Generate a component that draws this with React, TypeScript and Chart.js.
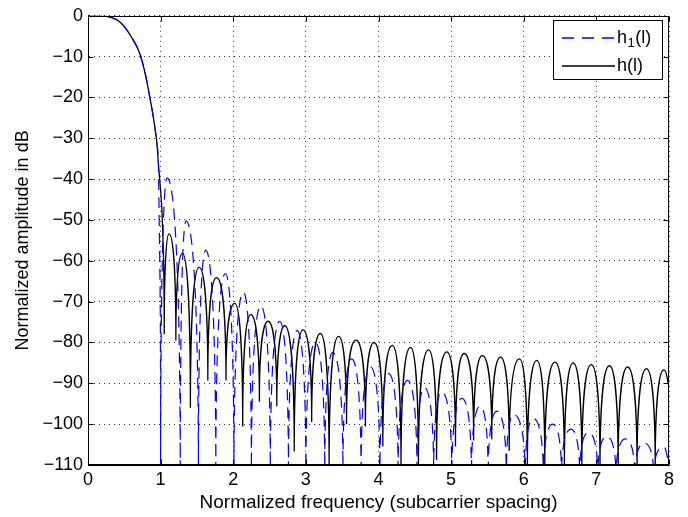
import React, { useEffect, useRef } from 'react';
import { Chart, registerables } from 'chart.js';

Chart.register(...registerables);

// ---------- data ----------
// shared main lobe (normalized frequency, dB)
const mainLobeFreq = [0, 0.2, 0.3, 0.44, 0.58, 0.72, 0.85, 0.94, 0.97];
const mainLobeDb = [0, 0, -0.3, -1.5, -4.7, -9.6, -19.8, -29.8, -36.4];

// h1(l): side-lobe nulls (fall below the axis) and peaks
const h1NullFreq = [1.0, 1.27, 1.52, 1.76, 2.01, 2.25, 2.51, 2.76, 3.0, 3.26, 3.51, 3.76, 4.02, 4.27, 4.53, 4.76, 5.01, 5.28, 5.51, 5.76, 6.02, 6.27, 6.52, 6.77, 7.02, 7.27, 7.53, 7.79];
const h1NullDb = -113;
const h1PeakFreq = [1.09, 1.35, 1.62, 1.89, 2.14, 2.38, 2.64, 2.88, 3.13, 3.37, 3.63, 3.89, 4.14, 4.4, 4.63, 4.87, 5.15, 5.4, 5.63, 5.86, 6.13, 6.4, 6.65, 6.89, 7.14, 7.4, 7.66, 7.92];
const h1PeakDb = [-39.7, -50.2, -57.4, -63.1, -67.7, -71, -74.8, -77.1, -80, -82.4, -84, -86, -87.6, -89.3, -91, -92.1, -93.7, -95.6, -96.8, -97.6, -98.6, -100, -101.2, -102, -103, -103.6, -104.6, -105.5];
const h1EndFreq = 8;
const h1EndDb = -110;

// h(l): tail of main lobe, side-lobe nulls and peaks
const hTailFreq = 1.02;
const hTailDb = -48.6;
const hNullFreq = [1.05, 1.21, 1.41, 1.65, 1.9, 2.13, 2.36, 2.6, 2.84, 3.08, 3.32, 3.56, 3.82, 4.06, 4.31, 4.55, 4.8, 5.06, 5.31, 5.56, 5.8, 6.05, 6.29, 6.56, 6.8, 7.05, 7.3, 7.56, 7.81];
const hNullDb = [-78, -79.5, -96, -89.3, -89.3, -100.6, -94.5, -95.6, -106.7, -99.5, -111, -100, -100.6, -105.5, -111, -111, -108.8, -105.5, -104, -103.7, -106.5, -111, -111, -111, -111, -111, -111, -111, -111];
const hPeakFreq = [1.116, 1.3, 1.53, 1.77, 2.02, 2.24, 2.48, 2.71, 2.96, 3.2, 3.45, 3.69, 3.94, 4.19, 4.44, 4.69, 4.94, 5.18, 5.43, 5.68, 5.94, 6.18, 6.43, 6.68, 6.93, 7.18, 7.43, 7.69, 7.93];
const hPeakDb = [-53.4, -58.2, -61.6, -64.1, -70.4, -73.2, -74.8, -75.9, -76.9, -77.8, -78.5, -79.4, -80, -80.7, -81.2, -81.8, -82.3, -82.7, -83.2, -83.6, -84, -84.4, -84.8, -85, -85.4, -85.7, -86, -86.4, -86.7];
const hEndFreq = 8;
const hEndDb = -91;

const xMin = 0, xMax = 8, xStep = 1;
const yMin = -110, yMax = 0, yStep = 10;

const xTitle = 'Normalized frequency (subcarrier spacing)';
const yTitle = 'Normalized amplitude in dB';
const legendBase = ['h', 'h'];
const legendSub = ['1', ''];
const legendTail = ['(l)', '(l)'];

// ---------- helpers ----------
const FONT = "'Liberation Sans', Arial, Helvetica, sans-serif";
const BLUE = '#0000ff';
const BLACK = '#000000';
const BLUE_DASH = [11, 7];
const LOBE_K = 0.62;

type P = { x: number; y: number };

function buildH1(): P[] {
  const pts: P[] = mainLobeFreq.map((f, i) => ({ x: f, y: mainLobeDb[i] }));
  h1NullFreq.forEach((f, i) => {
    pts.push({ x: f, y: h1NullDb });
    pts.push({ x: h1PeakFreq[i], y: h1PeakDb[i] });
  });
  pts.push({ x: h1EndFreq, y: h1EndDb });
  return pts;
}

function buildH(): P[] {
  const pts: P[] = mainLobeFreq.map((f, i) => ({ x: f, y: mainLobeDb[i] }));
  pts.push({ x: hTailFreq, y: hTailDb });
  hNullFreq.forEach((f, i) => {
    pts.push({ x: f, y: hNullDb[i] });
    pts.push({ x: hPeakFreq[i], y: hPeakDb[i] });
  });
  pts.push({ x: hEndFreq, y: hEndDb });
  return pts;
}

// Shape the bezier control points so side lobes are round arches with sharp nulls
const lobePlugin = {
  id: 'lobeShape',
  beforeDatasetDraw(chart: any, args: any) {
    const meta = args.meta;
    const line = meta.dataset;
    const pts = meta.data;
    if (!line || !pts || pts.length < 3) return;
    line.updateControlPoints(chart.chartArea, 'x');
    const k = LOBE_K;
    for (let i = 1; i < pts.length - 1; i++) {
      const p = pts[i], a = pts[i - 1], b = pts[i + 1];
      if (p.y < a.y && p.y < b.y) {
        p.cp1x = p.x - k * (p.x - a.x); p.cp1y = p.y;
        p.cp2x = p.x + k * (b.x - p.x); p.cp2y = p.y;
      } else if (p.y > a.y && p.y > b.y) {
        p.cp1x = p.x; p.cp1y = p.y - k * (p.y - a.y);
        p.cp2x = p.x; p.cp2y = p.y - k * (p.y - b.y);
      }
    }
  },
};

const framePlugin = {
  id: 'matlabFrame',
  afterDatasetsDraw(chart: any) {
    const { ctx, chartArea: a, scales } = chart;
    ctx.save();
    ctx.strokeStyle = BLACK;
    ctx.lineWidth = 1;
    ctx.setLineDash([]);
    const L = Math.round(a.left) + 0.5, R = Math.round(a.right) - 0.5;
    const T = Math.round(a.top) + 0.5, B = Math.round(a.bottom) - 0.5;
    ctx.strokeRect(L, T, R - L, B - T);
    const tl = 5;
    ctx.beginPath();
    scales.x.ticks.forEach((t: any) => {
      const px = Math.round(scales.x.getPixelForValue(t.value)) + 0.5;
      ctx.moveTo(px, B); ctx.lineTo(px, B - tl);
      ctx.moveTo(px, T); ctx.lineTo(px, T + tl);
    });
    scales.y.ticks.forEach((t: any) => {
      const py = Math.round(scales.y.getPixelForValue(t.value)) + 0.5;
      ctx.moveTo(L, py); ctx.lineTo(L + tl, py);
      ctx.moveTo(R, py); ctx.lineTo(R - tl, py);
    });
    ctx.stroke();
    ctx.restore();
  },
  afterDraw(chart: any) {
    const { ctx } = chart;
    ctx.save();
    const bx = 553.5, by = 20.5, bw = 109, bh = 59;
    ctx.fillStyle = '#ffffff';
    ctx.fillRect(bx, by, bw, bh);
    ctx.strokeStyle = BLACK;
    ctx.lineWidth = 1;
    ctx.strokeRect(bx, by, bw, bh);
    const rows = [38, 66];
    const colors = [BLUE, BLACK];
    rows.forEach((ry, i) => {
      ctx.beginPath();
      ctx.strokeStyle = colors[i];
      ctx.lineWidth = 1.3;
      ctx.setLineDash(i === 0 ? [12, 8] : []);
      ctx.moveTo(562, ry);
      ctx.lineTo(615, ry);
      ctx.stroke();
      ctx.setLineDash([]);
      ctx.fillStyle = BLACK;
      ctx.textBaseline = 'middle';
      ctx.textAlign = 'left';
      ctx.font = `18px ${FONT}`;
      let x = 617;
      ctx.fillText(legendBase[i], x, ry);
      x += ctx.measureText(legendBase[i]).width;
      if (legendSub[i]) {
        ctx.font = `13px ${FONT}`;
        ctx.fillText(legendSub[i], x + 0.5, ry + 5);
        x += ctx.measureText(legendSub[i]).width + 1;
        ctx.font = `18px ${FONT}`;
      }
      ctx.fillText(legendTail[i], x, ry);
    });
    ctx.restore();
  },
};

const fmt = (v: number) => (v < 0 ? '\u2212' + Math.abs(v) : String(v));

export default function App() {
  const ref = useRef<HTMLCanvasElement | null>(null);

  useEffect(() => {
    if (!ref.current) return;
    const chart = new Chart(ref.current, {
      type: 'line',
      data: {
        datasets: [
          {
            label: 'h1(l)',
            data: buildH1(),
            borderColor: BLUE,
            borderWidth: 1.2,
            borderDash: BLUE_DASH,
            pointRadius: 0,
            fill: false,
            tension: 0.4,
          },
          {
            label: 'h(l)',
            data: buildH(),
            borderColor: BLACK,
            borderWidth: 1.3,
            pointRadius: 0,
            fill: false,
            tension: 0.4,
          },
        ],
      },
      options: {
        animation: false,
        responsive: false,
        maintainAspectRatio: false,
        parsing: false,
        normalized: true,
        events: [],
        layout: { padding: { top: 14, right: 19, left: 0, bottom: 0 } },
        plugins: { legend: { display: false }, tooltip: { enabled: false } },
        scales: {
          x: {
            type: 'linear',
            min: xMin,
            max: xMax,
            afterFit: (s: any) => { s.height = 52; },
            ticks: { stepSize: xStep, padding: 4, color: BLACK, maxRotation: 0, font: { family: FONT, size: 18 }, callback: (v: any) => fmt(Number(v)) },
            grid: { color: 'rgba(0,0,0,0.8)', lineWidth: 1, drawTicks: false },
            border: { display: true, color: BLACK, width: 1, dash: [1, 4] },
            title: { display: true, text: xTitle, color: BLACK, font: { family: FONT, size: 19 }, padding: { top: 0, bottom: 3 } },
          },
          y: {
            type: 'linear',
            min: yMin,
            max: yMax,
            afterFit: (s: any) => { s.width = 88; },
            ticks: { stepSize: yStep, padding: 5, color: BLACK, font: { family: FONT, size: 18 }, callback: (v: any) => fmt(Number(v)) },
            grid: { color: 'rgba(0,0,0,0.8)', lineWidth: 1, drawTicks: false },
            border: { display: true, color: BLACK, width: 1, dash: [1, 4] },
            title: { display: true, text: yTitle, color: BLACK, font: { family: FONT, size: 18 }, padding: { top: 12, bottom: 0 } },
          },
        },
      } as any,
      plugins: [lobePlugin, framePlugin],
    });
    return () => chart.destroy();
  }, []);

  return (
    <div style={{ position: 'absolute', left: 0, top: 0, width: 688, height: 517, background: '#fff' }}>
      <canvas ref={ref} width={688} height={517} style={{ display: 'block', width: 688, height: 517 }} />
    </div>
  );
}
